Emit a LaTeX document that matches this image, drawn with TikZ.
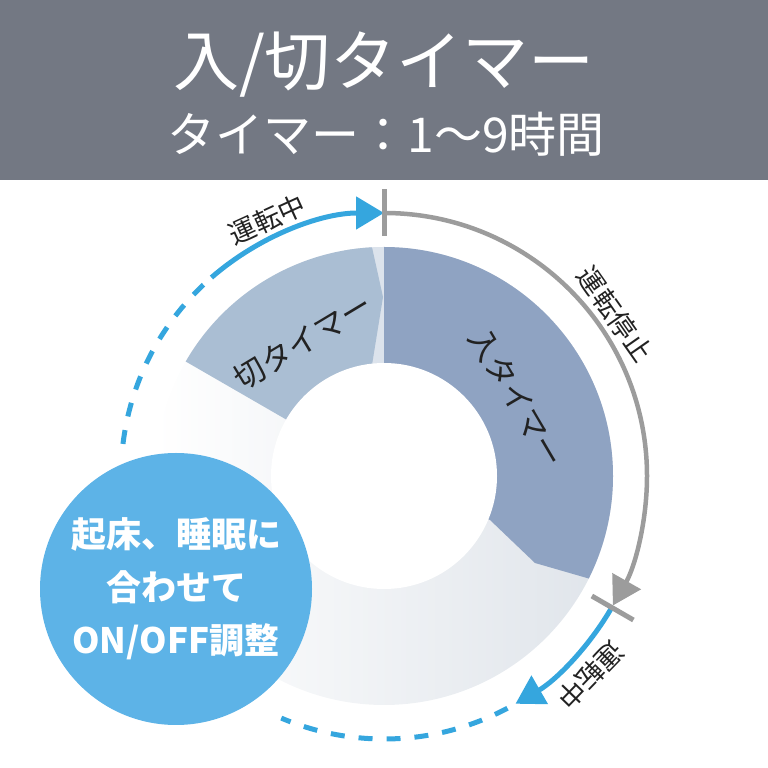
\documentclass[tikz,border=0pt]{standalone}
\usepackage{fontspec}
\setmainfont{Noto Sans CJK JP}
\usetikzlibrary{arrows.meta}
\definecolor{headgray}{HTML}{737883}
\definecolor{ontimer}{HTML}{8FA3C2}
\definecolor{offtimer}{HTML}{AABED3}
\definecolor{gapblue}{HTML}{DCE3EC}
\definecolor{ringgray}{HTML}{DFE4EA}
\definecolor{runblue}{HTML}{35A6DE}
\definecolor{stopgray}{HTML}{9C9C9C}
\definecolor{bubbleblue}{HTML}{5DB3E7}
\definecolor{labelblack}{HTML}{222222}

\begin{document}
\begin{tikzpicture}[x=1pt, y=1pt,
  runarc/.style={runblue, line width=5pt},
  stoparc/.style={stopgray, line width=4.5pt},
  arrowtip/.style={-{Triangle[length=28pt, width=32pt]}},
  dasharc/.style={runblue, line width=5pt, dash pattern=on 14pt off 14pt},
  stopmark/.style={stopgray, line width=5pt},
  arclabel/.style={text=labelblack, font=\fontsize{27}{27}\selectfont, inner sep=0pt},
  seglabel/.style={text=labelblack, font=\fontsize{31}{31}\selectfont, inner sep=0pt}]
  \useasboundingbox (0,0) rectangle (768,768);
  \fill[headgray] (0,588) rectangle (768,768);
  \node[text=white, font=\fontsize{66}{66}\selectfont] (title) at (384,703) {入/切タイマー};
  \node[text=white, font=\fontsize{48}{48}\selectfont] (subtitle) at (386,634) {タイマー：1〜9時間};
  \begin{scope}[shift={(384,292)}]
    \coordinate (c) at (0,0);
    \shade[left color=white, right color=ringgray] (c) circle (229);
    \fill[gapblue] (c) -- (100:229) arc[start angle=100, end angle=90, radius=229] -- cycle;
    \fill[offtimer] (c) -- (150:229) arc[start angle=150, end angle=93, radius=229] -- (-1,179) -- (-12,111) -- cycle;
    \fill[ontimer] (c) -- (90:229) arc[start angle=90, end angle=-26.6, radius=229] -- (151,-87) -- (106,-44) -- cycle;
    \fill[white] (c) circle (113);
    \draw[runarc, arrowtip] (131:263) arc[start angle=131, end angle=90, radius=263];
    \draw[dasharc] (173:263) arc[start angle=173, end angle=133, radius=263];
    \draw[stoparc, arrowtip] (90:263) arc[start angle=90, end angle=-29.5, radius=263];
    \draw[runarc, arrowtip] (-30:263) arc[start angle=-30, end angle=-60, radius=263];
    \draw[dasharc] (-62:263) arc[start angle=-62, end angle=-113, radius=263];
    \draw[stopmark] (90:240) -- (90:287);
    \draw[stopmark] (-30:240) -- (-30:288);
    \node[arclabel, rotate=24.5] (runtop) at (114.5:282) {運転中};
    \node[arclabel, rotate=-55] (stoplabel) at (35:282) {運転停止};
    \node[arclabel, rotate=-134] (runlow) at (-44:287) {運転中};
    \node[seglabel, rotate=31] (offlabel) at (121:157) {切タイマー};
    \node[seglabel, rotate=-59.5] (onlabel) at (30.4:154) {入タイマー};
  \end{scope}
  \node[circle, fill=bubbleblue, minimum size=272pt, inner sep=0pt, text=white, align=center,
    font=\bfseries\fontsize{35}{53}\selectfont] (bubble) at (176,179) {起床、睡眠に\\合わせて\\ON/OFF調整};
\end{tikzpicture}
\end{document}
